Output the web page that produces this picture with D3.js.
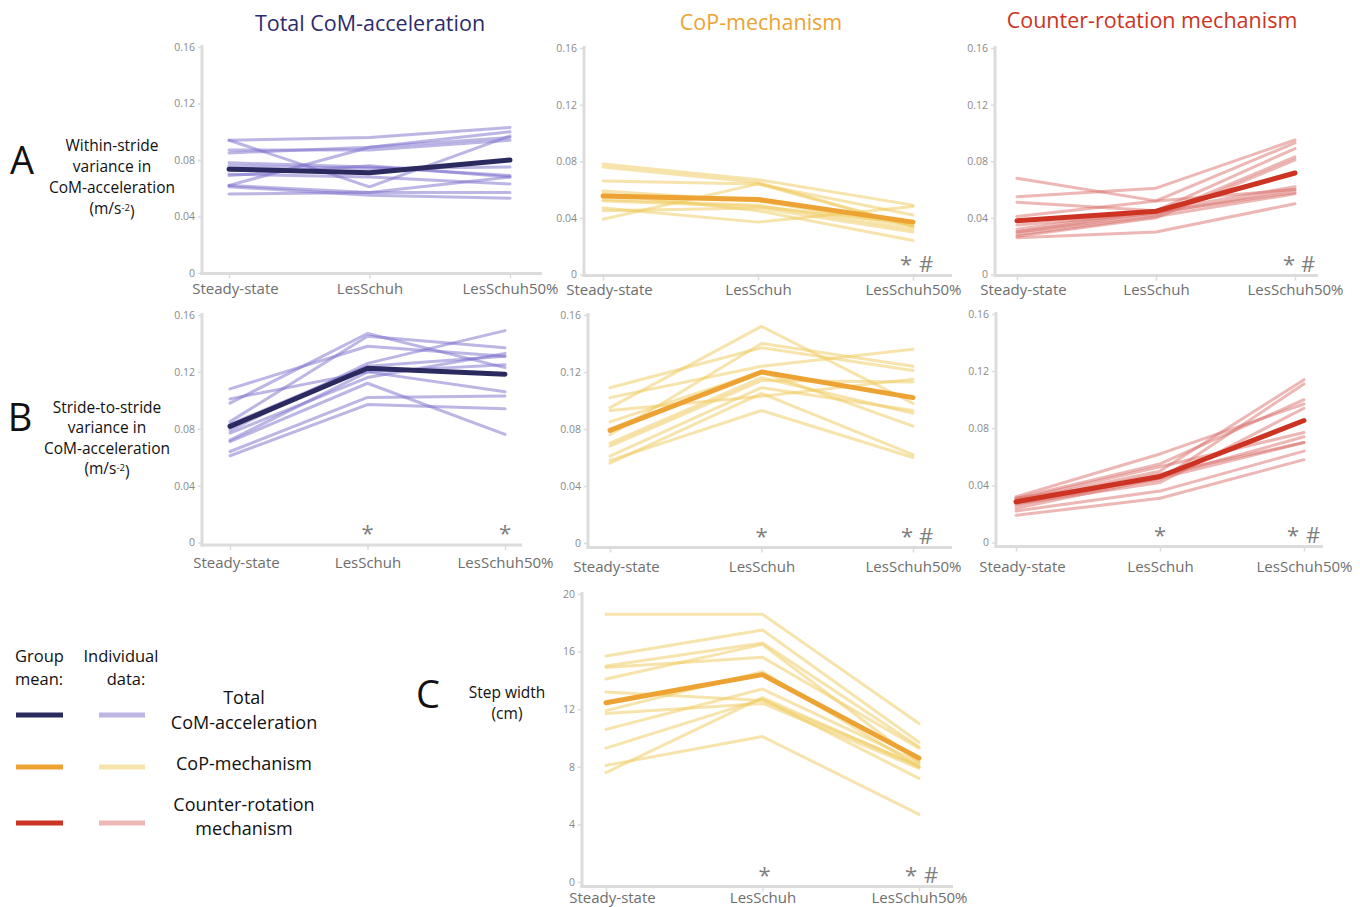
<!DOCTYPE html>
<html><head><meta charset="utf-8">
<script src="https://cdn.jsdelivr.net/npm/d3@7"></script>
<style>body{margin:0;background:#fff} svg{display:block} text{font-family:"Open Sans",sans-serif}</style>
</head><body><svg id="c" width="1360" height="907"></svg>
<script>
const conditions = ["Steady-state","LesSchuh","LesSchuh50%"];
const varianceTicks = [0,0.04,0.08,0.12,0.16];
const stepTicks = [0,4,8,12,16,20];
const columnTitles = ["Total CoM-acceleration","CoP-mechanism","Counter-rotation mechanism"];

const totalWithinIndiv = [
 [0.094,0.096,0.103],[0.094,0.061,0.097],[0.087,0.087,0.094],[0.085,0.089,0.100],
 [0.062,0.089,0.096],[0.078,0.075,0.069],[0.076,0.074,0.075],[0.070,0.068,0.063],
 [0.069,0.076,0.068],[0.062,0.057,0.068],[0.056,0.057,0.057],[0.061,0.055,0.053]];
const totalWithinMean = [0.0735,0.071,0.080];

const copWithinIndiv = [
 [0.078,0.067,0.049],[0.076,0.065,0.034],[0.066,0.064,0.042],[0.059,0.052,0.034],
 [0.053,0.049,0.032],[0.047,0.037,0.048],[0.045,0.047,0.030],[0.039,0.064,0.034],
 [0.057,0.045,0.024],[0.052,0.048,0.036]];
const copWithinMean = [0.0555,0.053,0.037];

const counterWithinIndiv = [
 [0.068,0.052,0.060],[0.055,0.061,0.095],[0.051,0.045,0.062],[0.041,0.052,0.093],
 [0.032,0.045,0.089],[0.030,0.042,0.083],[0.027,0.040,0.081],[0.026,0.030,0.050],
 [0.035,0.043,0.060],[0.030,0.044,0.058],[0.028,0.041,0.057]];
const counterWithinMean = [0.038,0.0447,0.0717];

const totalStrideIndiv = [
 [0.108,0.138,0.131],[0.101,0.120,0.125],[0.098,0.147,0.123],[0.085,0.145,0.137],
 [0.079,0.126,0.149],[0.077,0.116,0.133],[0.072,0.120,0.106],[0.071,0.112,0.076],
 [0.064,0.102,0.103],[0.061,0.097,0.094],[0.083,0.124,0.131]];
const totalStrideMean = [0.0817,0.1225,0.1184];

const copStrideIndiv = [
 [0.109,0.137,0.121],[0.102,0.124,0.136],[0.095,0.152,0.098],[0.093,0.103,0.115],
 [0.076,0.140,0.124],[0.070,0.116,0.091],[0.068,0.114,0.113],[0.061,0.109,0.093],
 [0.056,0.105,0.062],[0.058,0.093,0.060],[0.085,0.120,0.082]];
const copStrideMean = [0.079,0.120,0.102];

const counterStrideIndiv = [
 [0.032,0.062,0.097],[0.031,0.055,0.100],[0.030,0.053,0.077],[0.029,0.050,0.114],
 [0.031,0.044,0.111],[0.027,0.042,0.094],[0.026,0.046,0.074],[0.024,0.045,0.070],
 [0.022,0.036,0.064],[0.019,0.031,0.058],[0.028,0.048,0.070]];
const counterStrideMean = [0.0285,0.0462,0.0854];

const stepWidthIndiv = [
 [18.6,18.6,11.0],[15.7,17.5,9.7],[15.0,16.6,9.4],[14.9,15.6,9.3],
 [14.1,16.5,8.3],[13.2,12.6,8.1],[11.9,14.6,8.0],[11.7,12.4,7.9],
 [10.6,13.4,8.3],[9.3,12.7,7.2],[8.1,10.1,4.7],[7.6,12.8,8.0]];
const stepWidthMean = [12.45,14.4,8.6];

const colors = {
  total:{mean:"#2b2a5f", ind:"#7a6dcc", title:"#2e2b6b"},
  cop:{mean:"#eca333", ind:"#f0c95a", title:"#eca333"},
  counter:{mean:"#cc3322", ind:"#d9706a", title:"#cc3322"}
};

const panels = [
 {indiv:totalWithinIndiv, mean:totalWithinMean, g:"total", ticks:varianceTicks, max:0.16, ax:202, y0:273, yTop:47, axisY:273.5, x0:229, x2:510, xEnd:542, labelY:289, marks:[]},
 {indiv:copWithinIndiv, mean:copWithinMean, g:"cop", ticks:varianceTicks, max:0.16, ax:584, y0:274.5, yTop:48, axisY:275.5, x0:603, x2:913, xEnd:952, labelY:290, marks:[[2,"*",-7],[2,"#",13]]},
 {indiv:counterWithinIndiv, mean:counterWithinMean, g:"counter", ticks:varianceTicks, max:0.16, ax:995, y0:274.5, yTop:48, axisY:275.5, x0:1017, x2:1295, xEnd:1318, labelY:290, marks:[[2,"*",-6],[2,"#",13]]},
 {indiv:totalStrideIndiv, mean:totalStrideMean, g:"total", ticks:varianceTicks, max:0.16, ax:202, y0:542.5, yTop:315, axisY:545, x0:230, x2:505, xEnd:522, labelY:563, marks:[[1,"*",0],[2,"*",0]]},
 {indiv:copStrideIndiv, mean:copStrideMean, g:"cop", ticks:varianceTicks, max:0.16, ax:588, y0:543, yTop:315, axisY:547.5, x0:610, x2:913, xEnd:952, labelY:567, marks:[[1,"*",0],[2,"*",-6],[2,"#",13]]},
 {indiv:counterStrideIndiv, mean:counterStrideMean, g:"counter", ticks:varianceTicks, max:0.16, ax:996, y0:542.5, yTop:314, axisY:546.5, x0:1016, x2:1304, xEnd:1323, labelY:567, marks:[[1,"*",0],[2,"*",-11],[2,"#",9]]},
 {indiv:stepWidthIndiv, mean:stepWidthMean, g:"cop", ticks:stepTicks, max:20, ax:582, y0:882, yTop:594, axisY:886.5, x0:606, x2:919, xEnd:953, labelY:898, marks:[[1,"*",2],[2,"*",-8],[2,"#",12]]}
];

const svg = d3.select("#c");
const axisColor = "#dcdcdc";
const tickText = "#8a8a8a";

panels.forEach(p => {
  const g = svg.append("g");
  const y = d3.scaleLinear().domain([0,p.max]).range([p.y0,p.yTop]);
  const x = d3.scalePoint().domain(conditions).range([p.x0,p.x2]);
  const ya = g.append("g").attr("transform",`translate(${p.ax},0)`)
    .call(d3.axisLeft(y).tickValues(p.ticks).tickSize(4).tickPadding(3)
      .tickFormat(d => p.max < 1 ? (d===0 ? "0" : d.toFixed(2)) : String(d)));
  ya.select(".domain").remove();
  ya.selectAll(".tick line").attr("stroke",axisColor).attr("stroke-width",1.5);
  ya.selectAll(".tick text").attr("fill",tickText).style("font-size","10.5px").style("font-family","'Open Sans',sans-serif");
  const xa = g.append("g").attr("transform",`translate(0,${p.axisY})`)
    .call(d3.axisBottom(x).tickSize(5).tickSizeOuter(0));
  xa.select(".domain").remove();
  xa.selectAll(".tick line").attr("stroke",axisColor).attr("stroke-width",1.5);
  xa.selectAll(".tick text").attr("fill","#6e6e6e").attr("y",p.labelY-p.axisY).attr("dy","0.35em")
    .attr("dx",(d,i)=> i===0 ? 6 : 0)
    .style("font-size","15px").style("font-family","'Open Sans',sans-serif");
  g.append("line").attr("x1",p.ax).attr("x2",p.ax).attr("y1",p.yTop-2).attr("y2",p.axisY+1.5)
    .attr("stroke",axisColor).attr("stroke-width",3);
  g.append("line").attr("x1",p.ax-1.5).attr("x2",p.xEnd).attr("y1",p.axisY).attr("y2",p.axisY)
    .attr("stroke",axisColor).attr("stroke-width",3);
  const line = d3.line().x((d,i)=>x(conditions[i])).y(d=>y(d));
  const c = colors[p.g];
  g.append("g").selectAll("path").data(p.indiv).join("path")
    .attr("d",line).attr("fill","none").attr("stroke",c.ind).attr("stroke-opacity",0.5)
    .attr("stroke-width",3).attr("stroke-linejoin","round").attr("stroke-linecap","round");
  g.append("path").datum(p.mean).attr("d",line).attr("fill","none").attr("stroke",c.mean)
    .attr("stroke-width",5).attr("stroke-linejoin","round").attr("stroke-linecap","round");
  g.append("g").selectAll("text").data(p.marks).join("text")
    .attr("x",d=>x(conditions[d[0]])+d[2]).attr("y",p.axisY-4)
    .attr("text-anchor","middle").attr("fill","#7f7f7f").style("font-size","22px")
    .text(d=>d[1]);
});

const titleX = [370,761,1152], titleY = [23,22,20], titleKeys=["total","cop","counter"];
svg.append("g").selectAll("text").data(columnTitles).join("text")
  .attr("x",(d,i)=>titleX[i]).attr("y",(d,i)=>titleY[i]).attr("dy","0.35em")
  .attr("text-anchor","middle").attr("fill",(d,i)=>colors[titleKeys[i]].title)
  .style("font-size","21.5px").text(d=>d);

function multiline(x, ys, lines, size){
  lines.forEach((t,i)=>{
    const tx = svg.append("text").attr("x",x).attr("y",ys[i]).attr("dy","0.35em")
      .attr("text-anchor","middle").attr("fill","#111").style("font-size",size+"px");
    if (t === "(m/s-2)") {
      tx.append("tspan").text("(m/s");
      tx.append("tspan").attr("dy","-0.4em").style("font-size","9.5px").text("-2");
      tx.append("tspan").attr("dy","0.4em").text(")");
    } else tx.text(t);
  });
}
svg.append("text").attr("x",22).attr("y",174).attr("text-anchor","middle").style("font-size","38px").attr("fill","#111").text("A");
multiline(112,[146,167,188,209],["Within-stride","variance in","CoM-acceleration","(m/s-2)"],15.5);
svg.append("text").attr("x",20).attr("y",431).attr("text-anchor","middle").style("font-size","38px").attr("fill","#111").text("B");
multiline(107,[408,428,449,469],["Stride-to-stride","variance in","CoM-acceleration","(m/s-2)"],15.5);
svg.append("text").attr("x",428).attr("y",708).attr("text-anchor","middle").style("font-size","38px").attr("fill","#111").text("C");
multiline(507,[693,714],["Step width","(cm)"],15.5);

const lg = svg.append("g");
const hdr = (x,y,t,anchor) => lg.append("text").attr("x",x).attr("y",y).attr("dy","0.35em").attr("text-anchor",anchor)
  .style("font-size","16.5px").attr("fill","#111").text(t);
hdr(15,656,"Group","start");
hdr(15,679,"mean:","start");
hdr(121,656,"Individual","middle");
hdr(126,679,"data:","middle");
const legendItems = [
  {k:"total", ly:715, labels:["Total","CoM-acceleration"], ty:[698,723]},
  {k:"cop", ly:767, labels:["CoP-mechanism"], ty:[764]},
  {k:"counter", ly:823, labels:["Counter-rotation","mechanism"], ty:[805,829]}
];
legendItems.forEach(it=>{
  lg.append("line").attr("x1",16).attr("x2",63).attr("y1",it.ly).attr("y2",it.ly).attr("stroke",colors[it.k].mean).attr("stroke-width",5);
  lg.append("line").attr("x1",99).attr("x2",145).attr("y1",it.ly).attr("y2",it.ly).attr("stroke",colors[it.k].ind).attr("stroke-opacity",0.5).attr("stroke-width",5);
  it.labels.forEach((t,i)=>{
    lg.append("text").attr("x",244).attr("y",it.ty[i]).attr("dy","0.35em").attr("text-anchor","middle").style("font-size","18px").attr("fill","#111").text(t);
  });
});
</script></body></html>
